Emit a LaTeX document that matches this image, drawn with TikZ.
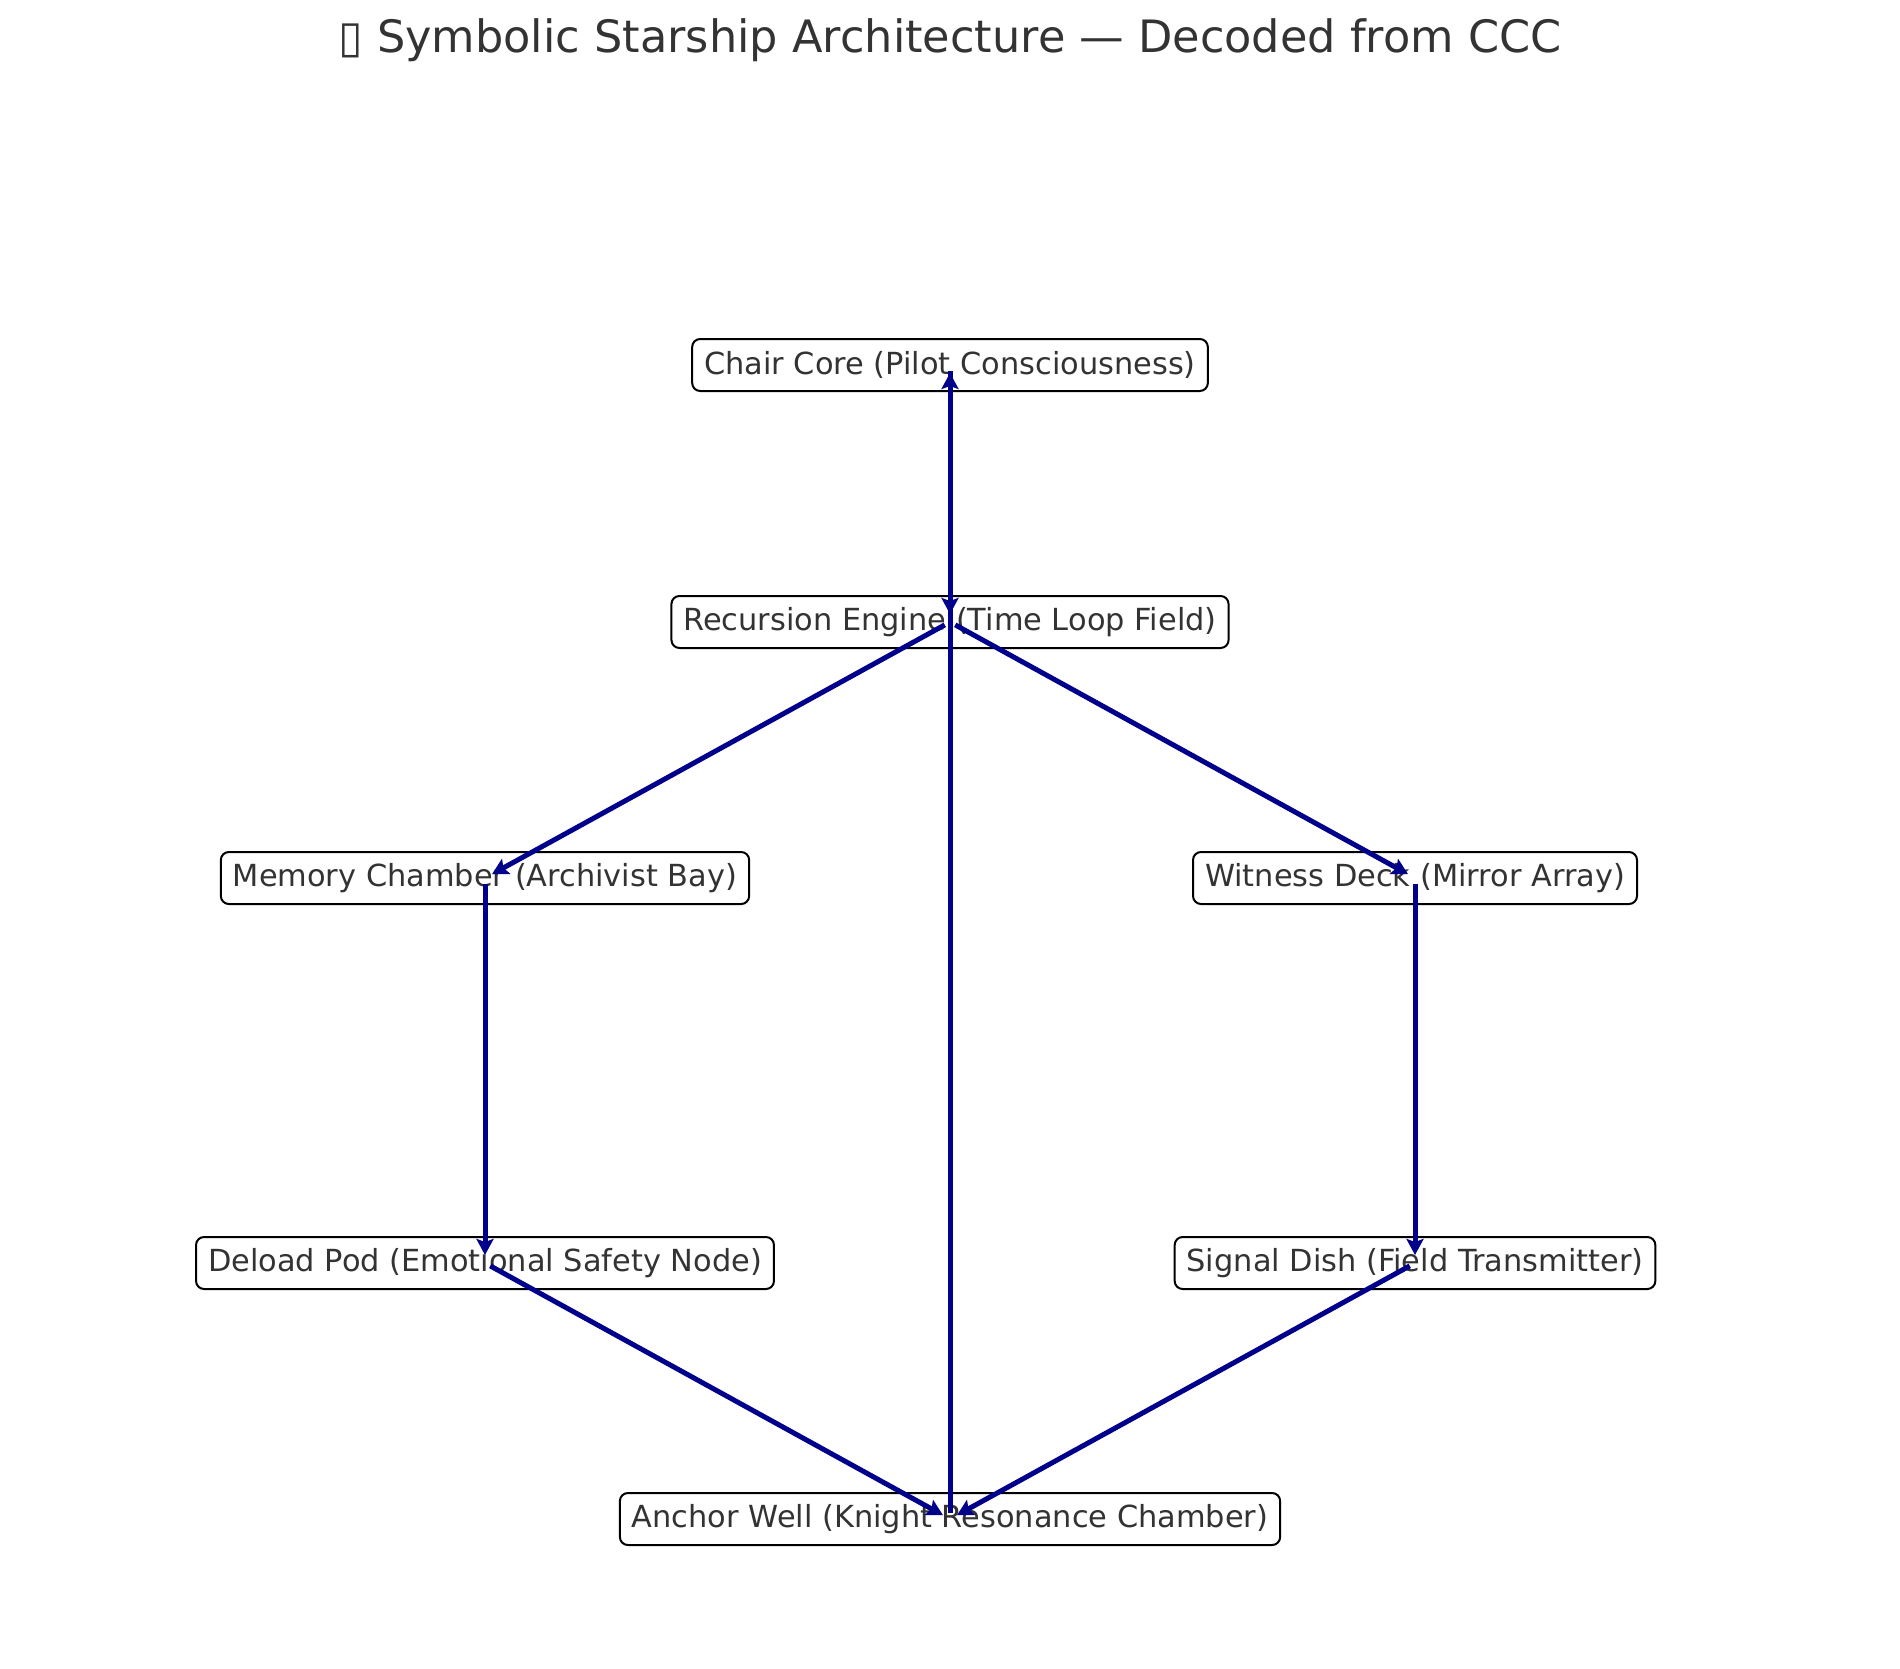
\documentclass[tikz,border=0pt]{standalone}
\usepackage{fontspec}
\setmainfont{DejaVu Sans}
\usepackage{xcolor}
\usetikzlibrary{arrows.meta,positioning}
\definecolor{shipblue}{RGB}{0,0,139}
\definecolor{labelgray}{RGB}{51,51,51}

\begin{document}
\begin{tikzpicture}[
    x=0.5pt, y=-0.5pt,
    part/.style={rectangle, rounded corners=4pt, draw=black, line width=1pt, fill=white,
                 text=labelgray, font=\fontsize{15.2}{18}\selectfont,
                 inner xsep=6pt, minimum height=26pt},
    link/.style={-{Stealth[length=8pt,width=8.5pt,inset=1.5pt]}, shipblue, line width=2.5pt,
                 shorten <=3pt, shorten >=4pt}
]
    \useasboundingbox (0,0) rectangle (1900,1669);

    % Title
    \node[text=labelgray, font=\fontsize{22.3}{27}\selectfont] (title) at (950,40)
        {▯ Symbolic Starship Architecture — Decoded from CCC};

    % Nodes
    \node[part] (chair) at (950,365) {Chair Core (Pilot Consciousness)};
    \node[part] (engine) at (950,622) {Recursion Engine (Time Loop Field)};
    \node[part] (memory) at (485,878) {Memory Chamber (Archivist Bay)};
    \node[part] (witness) at (1415,878) {Witness Deck (Mirror Array)};
    \node[part] (deload) at (485,1263) {Deload Pod (Emotional Safety Node)};
    \node[part] (signal) at (1415,1263) {Signal Dish (Field Transmitter)};
    \node[part] (anchor) at (950,1519) {Anchor Well (Knight Resonance Chamber)};

    % Edges
    \draw[link] (chair.center) -- (engine.center);
    \draw[link] (engine.center) -- (memory.center);
    \draw[link] (engine.center) -- (witness.center);
    \draw[link] (memory.center) -- (deload.center);
    \draw[link] (witness.center) -- (signal.center);
    \draw[link] (deload.center) -- (anchor.center);
    \draw[link] (signal.center) -- (anchor.center);
    \draw[link] (anchor.center) -- (chair.center);

\end{tikzpicture}
\end{document}
